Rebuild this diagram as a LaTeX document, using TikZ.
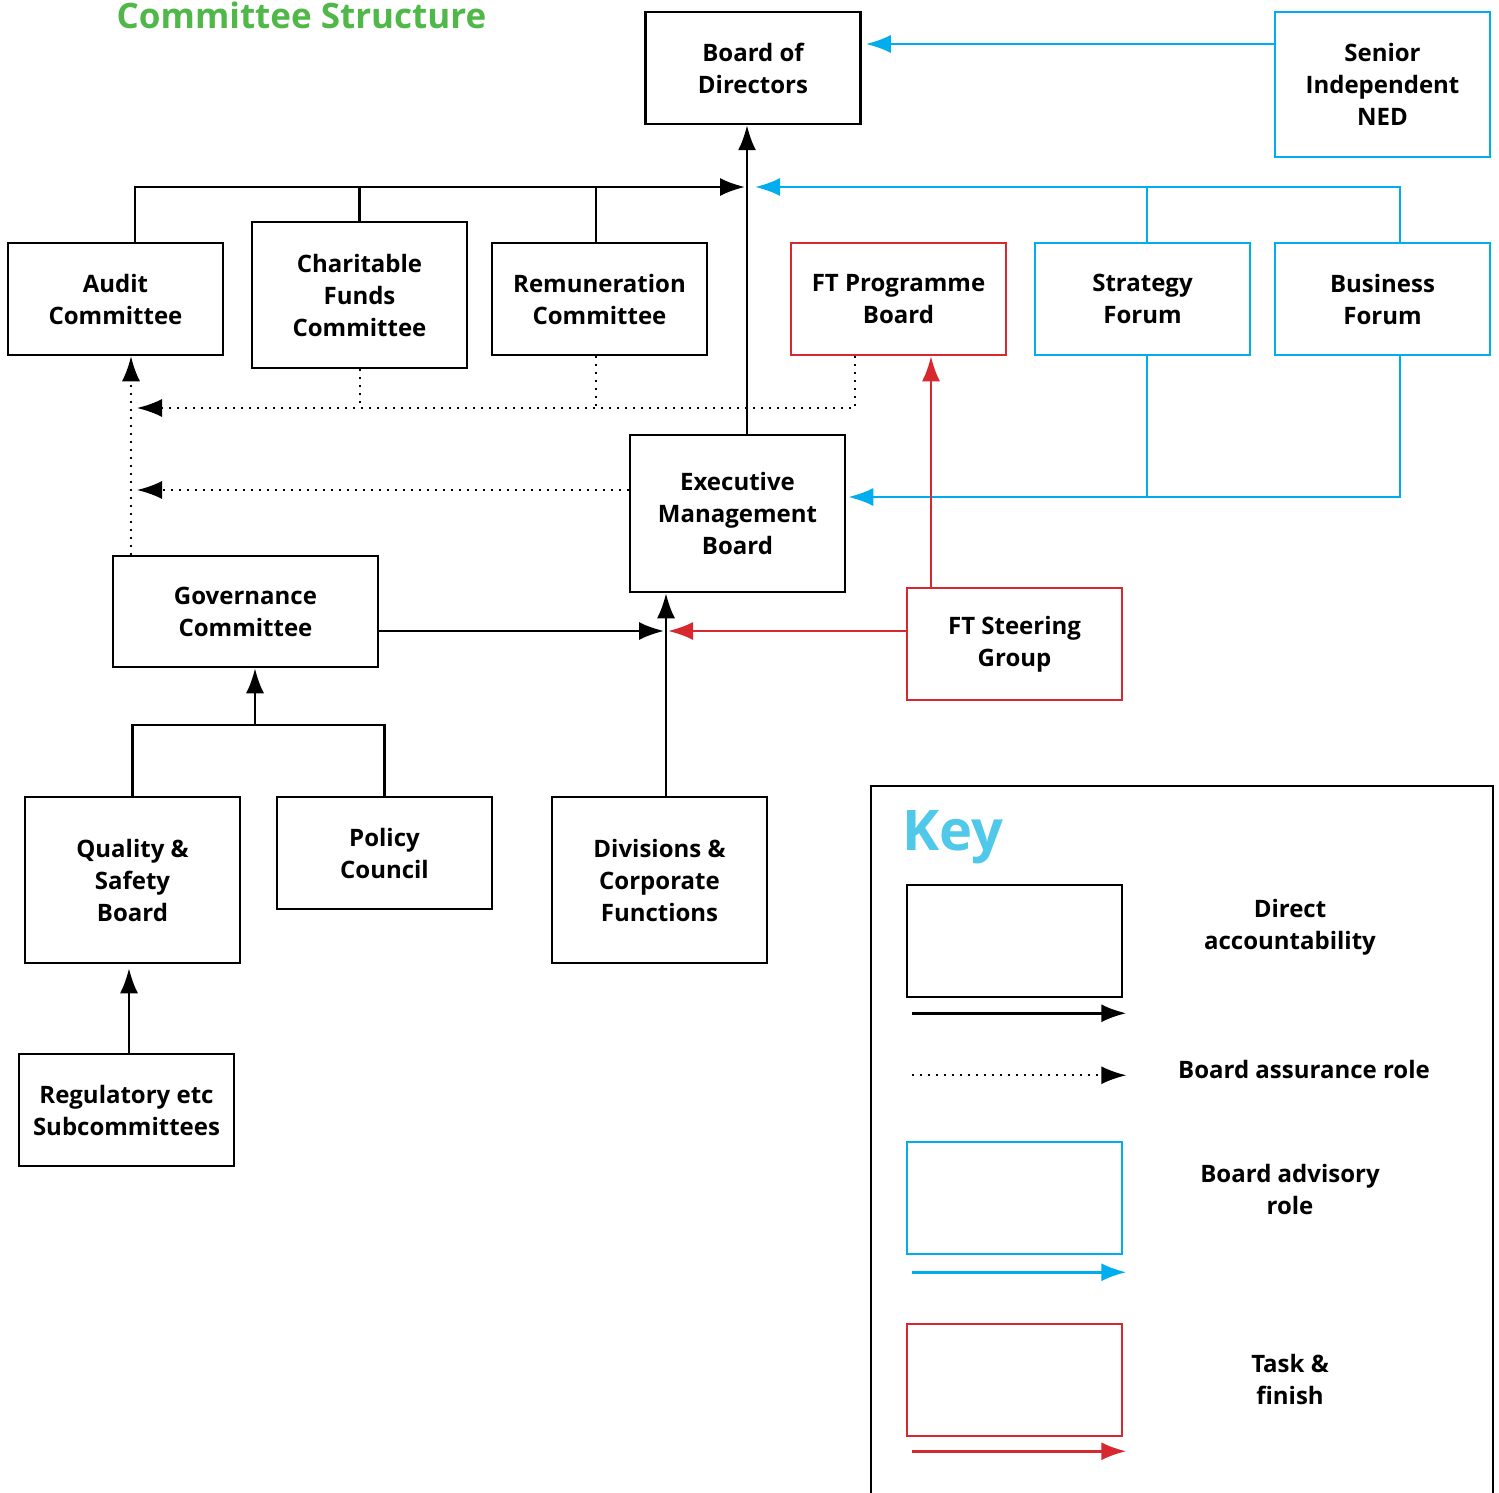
\documentclass[tikz,border=0pt]{standalone}
\usepackage{fontspec}
\setmainfont{Open Sans}
\usetikzlibrary{calc,arrows.meta,positioning}

\definecolor{accblack}{HTML}{000000}
\definecolor{advblue}{HTML}{00AEEF}
\definecolor{taskred}{HTML}{D7282F}
\definecolor{titlegreen}{HTML}{50B848}
\definecolor{keyblue}{HTML}{4FC8EA}

\tikzset{
  box/.style={draw=accblack, line width=2.5pt, align=center, minimum width=215pt, minimum height=112pt,
    font=\fontsize{24}{32}\selectfont\bfseries, inner sep=2pt},
  advbox/.style={box, draw=advblue},
  taskbox/.style={box, draw=taskred},
  line/.style={draw=accblack, line width=2.5pt},
  acc/.style={line, -{Latex[length=25pt,width=18pt]}},
  adv/.style={line, draw=advblue, -{Latex[length=25pt,width=18pt]}},
  advline/.style={line, draw=advblue},
  task/.style={line, draw=taskred, -{Latex[length=25pt,width=18pt]}},
  asrline/.style={line, line width=2pt, dash pattern=on 2pt off 6pt},
  asr/.style={asrline, -{Latex[length=25pt,width=18pt]}},
  lbl/.style={align=center, font=\fontsize{24}{32}\selectfont\bfseries}
}

\begin{document}
\begin{tikzpicture}[x=1pt, y=-1pt]
  \useasboundingbox (0,0) rectangle (1499,1493);

  % Titel
  \node[anchor=base, text=titlegreen, font=\fontsize{35}{40}\selectfont\bfseries, inner sep=0pt] (ttl) at (301.5,29) {Committee Structure};

  % Boards and committees
  \node[box] (bod) at (753,68) {Board of\\Directors};
  \node[advbox, minimum height=145pt] (ned) at (1382.5,84.5) {Senior\\Independent\\NED};

  \node[box] (audit) at (115.5,299) {Audit\\Committee};
  \node[box, minimum height=146pt] (charity) at (359.5,295) {Charitable\\Funds\\Committee};
  \node[box] (remun) at (599.5,299) {Remuneration\\Committee};
  \node[taskbox] (ftprog) at (898.5,299) {FT Programme\\Board};
  \node[advbox] (strat) at (1142.5,299) {Strategy\\Forum};
  \node[advbox] (busi) at (1382.5,299) {Business\\Forum};

  \node[box, minimum height=157pt] (emb) at (737.5,513.5) {Executive\\Management\\Board};
  \node[box, minimum width=265pt, minimum height=111pt] (gov) at (245.5,611.5) {Governance\\Committee};
  \node[taskbox] (ftsteer) at (1014.5,644) {FT Steering\\Group};

  \node[box, minimum height=166pt] (qsb) at (132.5,880) {Quality \&\\Safety\\Board};
  \node[box] (policy) at (384.5,853) {Policy\\Council};
  \node[box, minimum height=166pt] (divs) at (659.5,880) {Divisions \&\\Corporate\\Functions};
  \node[box] (reg) at (126.5,1110) {Regulatory etc\\Subcommittees};

  % Junctions
  \coordinate (topbus) at (747,187);
  \coordinate (asrtip) at (137,408);
  \coordinate (embin) at (666,631);
  \coordinate (govjoin) at (255,725);

  % Direct accountability
  \draw[acc] ([xshift=-6pt]bod.south |- emb.north) -- ([xshift=-6pt]bod.south);
  \draw[acc] ([xshift=19.5pt]audit.north) |- ([xshift=-2pt]topbus);
  \draw[line] (charity.north) -- (charity.north |- topbus);
  \draw[line] ([xshift=-3.5pt]remun.north) -- ([xshift=-3.5pt]remun.north |- topbus);
  \draw[acc] ([yshift=-19.5pt]gov.east) -- ([xshift=-2pt]embin);
  \draw[acc] ([xshift=6.5pt]divs.north) -- ([xshift=6.5pt]divs.north |- emb.south);
  \draw[line] (qsb.north) |- (govjoin) -| (policy.north);
  \draw[acc] (govjoin) -- (govjoin |- gov.south);
  \draw[acc] ([xshift=2.5pt]reg.north) -- ([xshift=2.5pt,yshift=-4pt]reg.north |- qsb.south);

  % Board advisory role
  \draw[adv] ([yshift=40.5pt]ned.west) -- ([xshift=4pt,yshift=40.5pt]ned.west -| bod.east);
  \draw[adv] ([xshift=17.5pt]busi.north) |- ([xshift=8pt]topbus);
  \draw[advline] ([xshift=4.5pt]strat.north) -- ([xshift=4.5pt]strat.north |- topbus);
  \draw[adv] ([xshift=17.5pt]busi.south) |- ([xshift=2pt,yshift=16.5pt]emb.east);
  \draw[advline] ([xshift=4.5pt]strat.south) -- ([xshift=4.5pt,yshift=16.5pt]strat.south |- emb.east);

  % Task and finish
  \draw[task] ([xshift=-83.5pt]ftsteer.north) -- ([xshift=-83.5pt]ftsteer.north |- ftprog.south);
  \draw[task] ([yshift=13pt]ftsteer.west) -- ([xshift=2pt]embin);

  % Board assurance role
  \draw[asr] ([xshift=-43.5pt]ftprog.south) |- (asrtip);
  \draw[asrline] (charity.south) -- (charity.south |- asrtip);
  \draw[asrline] ([xshift=-3.5pt]remun.south) -- ([xshift=-3.5pt]remun.south |- asrtip);
  \draw[asr] ([yshift=23.5pt]emb.west) -- ([yshift=23.5pt]emb.west -| asrtip);
  \draw[asr] ([xshift=-114.5pt]gov.north) -- ([xshift=-114.5pt]gov.north |- audit.south);

  % Key
  \draw[line] (871,1500) -- (871,786) -- (1493,786) -- (1493,1500);
  \node[anchor=base west, text=keyblue, font=\fontsize{56}{60}\selectfont\bfseries, inner sep=0pt] (keyttl) at (902,850) {Key};

  \node[box] (k1) at (1014.5,941) {};
  \node[advbox] (k2) at (1014.5,1198) {};
  \node[taskbox] (k3) at (1014.5,1380) {};

  \draw[acc] ([xshift=6pt,yshift=-15pt]k1.south west) -- ([xshift=3pt,yshift=-15pt]k1.south east);
  \draw[asr] ([xshift=6pt,yshift=-77pt]k1.south west) -- ([xshift=3pt,yshift=-77pt]k1.south east);
  \draw[adv] ([xshift=6pt,yshift=-17pt]k2.south west) -- ([xshift=3pt,yshift=-17pt]k2.south east);
  \draw[task] ([xshift=6pt,yshift=-14pt]k3.south west) -- ([xshift=3pt,yshift=-14pt]k3.south east);

  \node[lbl] (l1) at (1290,927) {Direct\\accountability};
  \node[lbl] (l2) at (1304,1069) {Board assurance role};
  \node[lbl] (l3) at (1290,1189) {Board advisory\\role};
  \node[lbl] (l4) at (1290,1379) {Task \&\\finish};
\end{tikzpicture}
\end{document}
